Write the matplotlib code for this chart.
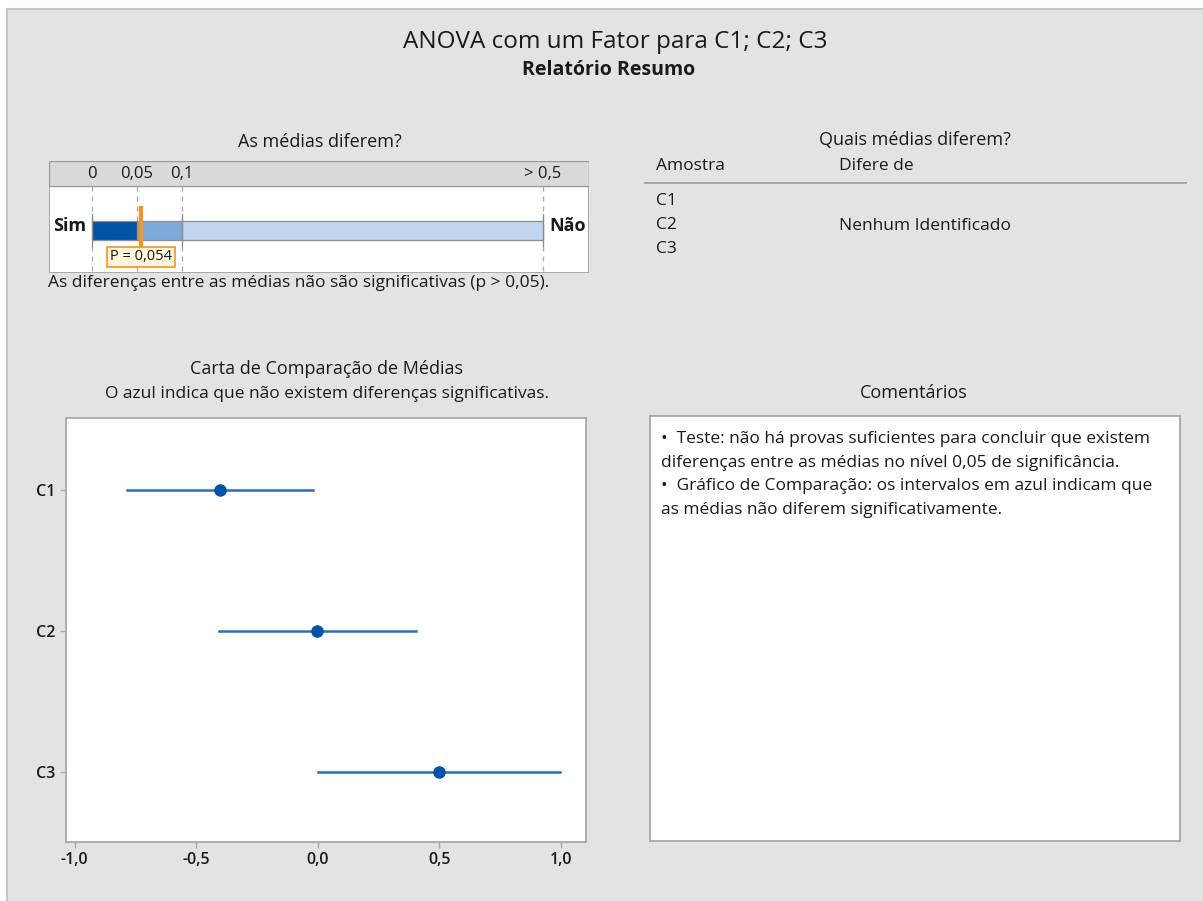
import matplotlib
matplotlib.use("Agg")
import matplotlib.pyplot as plt
from matplotlib.patches import Rectangle

# ---------------- data ----------------
samples = ["C1", "C2", "C3"]
means = [-0.404, -0.003, 0.498]
ci_low = [-0.785, -0.408, 0.002]
ci_high = [-0.021, 0.403, 0.995]
x_ticks = [-1.0, -0.5, 0.0, 0.5, 1.0]
x_tick_labels = ["-1,0", "-0,5", "0,0", "0,5", "1,0"]

p_value = 0.054
p_bounds = [0.0, 0.05, 0.1, 0.5]
p_tick_labels = ["0", "0,05", "0,1", "> 0,5"]
p_colors = ["#0054A6", "#7FA8DA", "#C2D5EE"]

title = "ANOVA com um Fator para C1; C2; C3"
subtitle = "Relatório Resumo"
comments = [
    "•  Teste: não há provas suficientes para concluir que existem",
    "diferenças entre as médias no nível 0,05 de significância.",
    "•  Gráfico de Comparação: os intervalos em azul indicam que",
    "as médias não diferem significativamente.",
]

plt.rcParams['font.family'] = ['Open Sans', 'DejaVu Sans']

W, H = 1203, 901
fig = plt.figure(figsize=(W / 100, H / 100), dpi=100)
fig.patch.set_facecolor("white")

def box(x, y, w, h):
    return [x / W, 1 - (y + h) / H, w / W, h / H]

def fx(x):
    return x / W

def fy(y):
    return 1 - y / H

BG = "#E3E3E3"
TXT = "#1a1a1a"
BODY = 12.5
SEC = 13
# background panel
fig.patches.append(Rectangle((fx(7), -0.01), 1.02 - fx(7), fy(9) + 0.01, transform=fig.transFigure,
                             facecolor=BG, edgecolor="#C8C8C8", linewidth=1.5, zorder=-10))

# titles
fig.text(fx(615), fy(42), title, ha="center", va="center", fontsize=17.5, color=TXT)
fig.text(fx(609), fy(70), subtitle, ha="center", va="center", fontsize=14, color=TXT,
         fontweight="bold")

# ---------------- p-value bar ----------------
fig.text(fx(320), fy(142), "As médias diferem?", ha="center", va="center", fontsize=SEC, color=TXT)

X0, X1 = 49, 589
p0px, p5px = 92, 543
scale = (p5px - p0px) / (p_bounds[-1] - p_bounds[0])
axp = fig.add_axes(box(X0, 161, X1 - X0, 112))
axp.set_xlim((X0 - p0px) / scale, (X1 - p0px) / scale)
axp.set_ylim(273, 161)
axp.axis("off")
xl = axp.get_xlim()
axp.add_patch(Rectangle((xl[0], 161), xl[1] - xl[0], 112, facecolor="white",
                        edgecolor="#9A9A9A", linewidth=1.2, zorder=0))
axp.add_patch(Rectangle((xl[0], 161), xl[1] - xl[0], 25,
                        facecolor="#DADADA", edgecolor="#9A9A9A", linewidth=1.0, zorder=1))
for b, lab in zip(p_bounds, p_tick_labels):
    axp.plot([b, b], [186, 273], color="#A8A8A8", linestyle=(0, (4, 4)), linewidth=0.9, zorder=1)
    axp.text(b, 174, lab, ha="center", va="center", fontsize=12, color=TXT, zorder=3)
for i in range(len(p_colors)):
    axp.barh(230.5, p_bounds[i + 1] - p_bounds[i], left=p_bounds[i], height=19,
             color=p_colors[i], edgecolor="#8C8C8C", linewidth=0.9, zorder=2)
for b in [p_bounds[0], p_bounds[2], p_bounds[3]]:
    axp.plot([b, b], [214, 246], color="#8C8C8C", linewidth=0.9, zorder=2)
axp.plot([p_value, p_value], [208, 247], color="#F7941D", linewidth=3, zorder=4)
axp.text(p_value, 257, "P = 0,054", ha="center", va="center", fontsize=10.5, color=TXT, zorder=5,
         bbox=dict(boxstyle="square,pad=0.2", facecolor="#FFF6DC", edgecolor="#F7941D", linewidth=1.2))
fig.text(fx(70), fy(226), "Sim", ha="center", va="center", fontsize=13, fontweight="bold", color=TXT)
fig.text(fx(568), fy(226), "Não", ha="center", va="center", fontsize=13, fontweight="bold", color=TXT)
fig.text(fx(48), fy(283), "As diferenças entre as médias não são significativas (p > 0,05).",
         ha="left", va="center", fontsize=BODY, color=TXT)

# ---------------- which means differ ----------------
fig.text(fx(915), fy(140), "Quais médias diferem?", ha="center", va="center", fontsize=SEC, color=TXT)
fig.text(fx(656), fy(166), "Amostra", ha="left", va="center", fontsize=BODY, color=TXT)
fig.text(fx(839), fy(166), "Difere de", ha="left", va="center", fontsize=BODY, color=TXT)
fig.add_artist(plt.Line2D([fx(645), fx(1186)], [fy(183), fy(183)], color="#A0A0A0", linewidth=1.3))
for i, s in enumerate(samples):
    fig.text(fx(656), fy(201 + 24 * i), s, ha="left", va="center", fontsize=BODY, color=TXT)
fig.text(fx(839), fy(226), "Nenhum Identificado", ha="left", va="center", fontsize=BODY, color=TXT)

# ---------------- comparison chart ----------------
fig.text(fx(327), fy(369), "Carta de Comparação de Médias", ha="center", va="center", fontsize=SEC, color=TXT)
fig.text(fx(327), fy(394), "O azul indica que não existem diferenças significativas.",
         ha="center", va="center", fontsize=BODY, color=TXT)

ax = fig.add_axes(box(66, 418, 520, 424))
ax.set_facecolor("white")
ypos = list(range(1, len(samples) + 1))
for y, m, lo, hi in zip(ypos, means, ci_low, ci_high):
    ax.plot([lo, hi], [y, y], color="#2A6EBB", linewidth=1.8, zorder=2)
ax.plot(means, ypos, "o", color="#0054A6", markersize=8, zorder=3, linestyle="none")
ax.set_xlim(-1.036, 1.104)
ax.set_ylim(3.5, 0.49)
ax.set_yticks(ypos)
ax.set_yticklabels(samples, fontweight="semibold")
ax.set_xticks(x_ticks)
ax.set_xticklabels(x_tick_labels, fontweight="semibold")
for sp in ax.spines.values():
    sp.set_color("#A8A8A8")
    sp.set_linewidth(1.3)
ax.tick_params(axis="both", colors="#A8A8A8", labelcolor=TXT, labelsize=11.5, length=4, width=1)

# ---------------- comments ----------------
fig.text(fx(914), fy(393), "Comentários", ha="center", va="center", fontsize=SEC, color=TXT)
axc = fig.add_axes(box(650, 416, 530, 425))
axc.set_xticks([])
axc.set_yticks([])
axc.set_facecolor("white")
for sp in axc.spines.values():
    sp.set_color("#A8A8A8")
    sp.set_linewidth(1.3)
for i, line in enumerate(comments):
    fig.text(fx(661), fy(439 + 23.5 * i), line, ha="left", va="center", fontsize=BODY, color=TXT)

fig.savefig("out.png", dpi=100, facecolor=fig.get_facecolor())
